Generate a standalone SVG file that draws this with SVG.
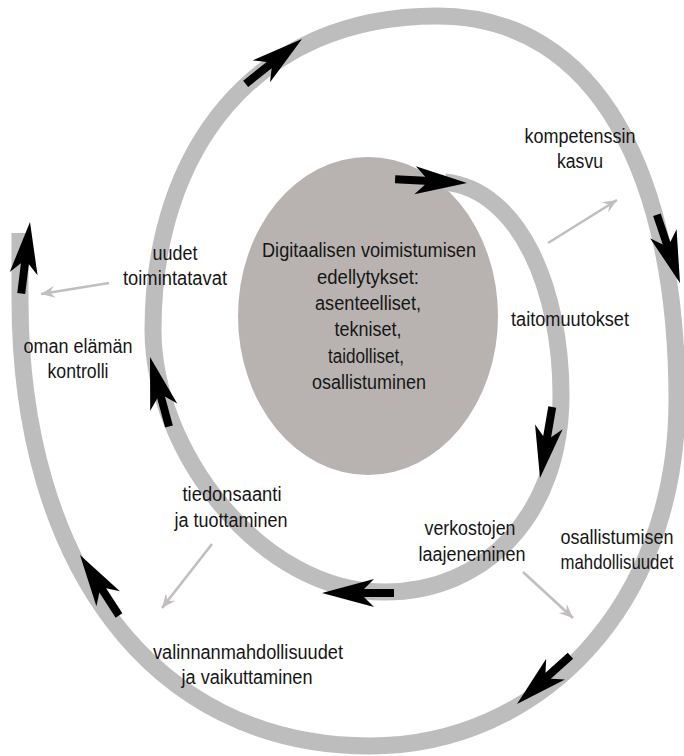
<svg xmlns="http://www.w3.org/2000/svg" xmlns:xlink="http://www.w3.org/1999/xlink" width="684" height="756" viewBox="0 0 684 756">
  <style>
    .band { fill: none; stroke: #bdbdbd; stroke-width: 17; stroke-linecap: butt; }
    .thin { fill: none; stroke: #c2bebe; stroke-width: 2.6; marker-end: url(#thinHead); }
    .dir { fill: #000; }
    text { font-family: "Liberation Sans", Arial, sans-serif; font-size: 20px; fill: #161616; text-anchor: middle; }
  </style>
  <defs>
    <!-- bold arrow along the spiral, tip at origin pointing +x -->
    <path id="dirArrow" d="M0,0 L-52,-14 L-42,-4 L-72,-4 L-72,4 L-42,4 L-52,14 Z"/>
    <marker id="thinHead" viewBox="-15 -7 16 14" refX="0" refY="0" markerWidth="16" markerHeight="14" markerUnits="userSpaceOnUse" orient="auto">
      <path d="M0,0 L-14,-6 L-9,0 L-14,6 Z" fill="#c2bebe"/>
    </marker>
  </defs>

  <rect width="684" height="756" fill="#ffffff"/>

  <!-- central ellipse -->
  <g id="center">
    <ellipse cx="368" cy="316" rx="130" ry="159" fill="#b8b3b1"/>
    <text x="369" y="257" textLength="214" lengthAdjust="spacingAndGlyphs">Digitaalisen voimistumisen</text>
    <text x="368" y="284" textLength="102" lengthAdjust="spacingAndGlyphs">edellytykset:</text>
    <text x="368" y="310" textLength="106" lengthAdjust="spacingAndGlyphs">asenteelliset,</text>
    <text x="368" y="336" textLength="67" lengthAdjust="spacingAndGlyphs">tekniset,</text>
    <text x="366" y="363" textLength="76" lengthAdjust="spacingAndGlyphs">taidolliset,</text>
    <text x="369" y="389" textLength="114" lengthAdjust="spacingAndGlyphs">osallistuminen</text>
  </g>

  <!-- spiral and arrows -->
  <g id="connectors">
    <path class="band" d="M445,182 C520,190 561,290 561,395 C561,515 485,592 385,592 C260,592 153,450 153,330 C153,150 255,16 437,16 C600,16 677,180 677,400 C677,605 540,746 370,746 C150,746 20,560 20,300 L20,233"/>

    <use xlink:href="#dirArrow" class="dir" transform="translate(467,183) rotate(3)"/>
    <use xlink:href="#dirArrow" class="dir" transform="translate(540,478) rotate(99.8)"/>
    <use xlink:href="#dirArrow" class="dir" transform="translate(322,593) rotate(180)"/>
    <use xlink:href="#dirArrow" class="dir" transform="translate(150,357) rotate(-105.3)"/>
    <use xlink:href="#dirArrow" class="dir" transform="translate(302,39) rotate(-38.5)"/>
    <use xlink:href="#dirArrow" class="dir" transform="translate(680,283) rotate(71.3)"/>
    <use xlink:href="#dirArrow" class="dir" transform="translate(517,704) rotate(137.9)"/>
    <use xlink:href="#dirArrow" class="dir" transform="translate(80,555) rotate(-122.8)"/>
    <use xlink:href="#dirArrow" class="dir" transform="translate(30,222) rotate(-83)"/>

    <line class="thin" x1="548" y1="243" x2="617" y2="200"/>
    <line class="thin" x1="109" y1="283" x2="41" y2="294"/>
    <line class="thin" x1="212" y1="544" x2="162" y2="608"/>
    <line class="thin" x1="523" y1="572" x2="573" y2="618"/>
  </g>

  <g id="kompetenssin">
    <text x="580" y="143" textLength="111" lengthAdjust="spacingAndGlyphs">kompetenssin</text>
    <text x="580" y="168" textLength="46" lengthAdjust="spacingAndGlyphs">kasvu</text>
  </g>
  <g id="taitomuutokset">
    <text x="570" y="326" textLength="118" lengthAdjust="spacingAndGlyphs">taitomuutokset</text>
  </g>
  <g id="uudet">
    <text x="175" y="260" textLength="45" lengthAdjust="spacingAndGlyphs">uudet</text>
    <text x="175" y="285" textLength="104" lengthAdjust="spacingAndGlyphs">toimintatavat</text>
  </g>
  <g id="oman">
    <text x="78" y="353" textLength="109" lengthAdjust="spacingAndGlyphs">oman elämän</text>
    <text x="78" y="378" textLength="61" lengthAdjust="spacingAndGlyphs">kontrolli</text>
  </g>
  <g id="tiedonsaanti">
    <text x="232" y="501" textLength="99" lengthAdjust="spacingAndGlyphs">tiedonsaanti</text>
    <text x="231" y="527" textLength="113" lengthAdjust="spacingAndGlyphs">ja tuottaminen</text>
  </g>
  <g id="verkostojen">
    <text x="470" y="535" textLength="91" lengthAdjust="spacingAndGlyphs">verkostojen</text>
    <text x="472" y="561" textLength="107" lengthAdjust="spacingAndGlyphs">laajeneminen</text>
  </g>
  <!-- narrow lines near the right edge: condensed with a horizontal scale -->
  <g id="osallistumisen">
    <text transform="translate(617,544) scale(0.9,1)" x="0" y="0">osallistumisen</text>
    <text transform="translate(617,569) scale(0.84,1)" x="0" y="0">mahdollisuudet</text>
  </g>
  <g id="valinnan">
    <text x="248" y="659" textLength="190" lengthAdjust="spacingAndGlyphs">valinnanmahdollisuudet</text>
    <text x="247" y="684" textLength="131" lengthAdjust="spacingAndGlyphs">ja vaikuttaminen</text>
  </g>
</svg>
